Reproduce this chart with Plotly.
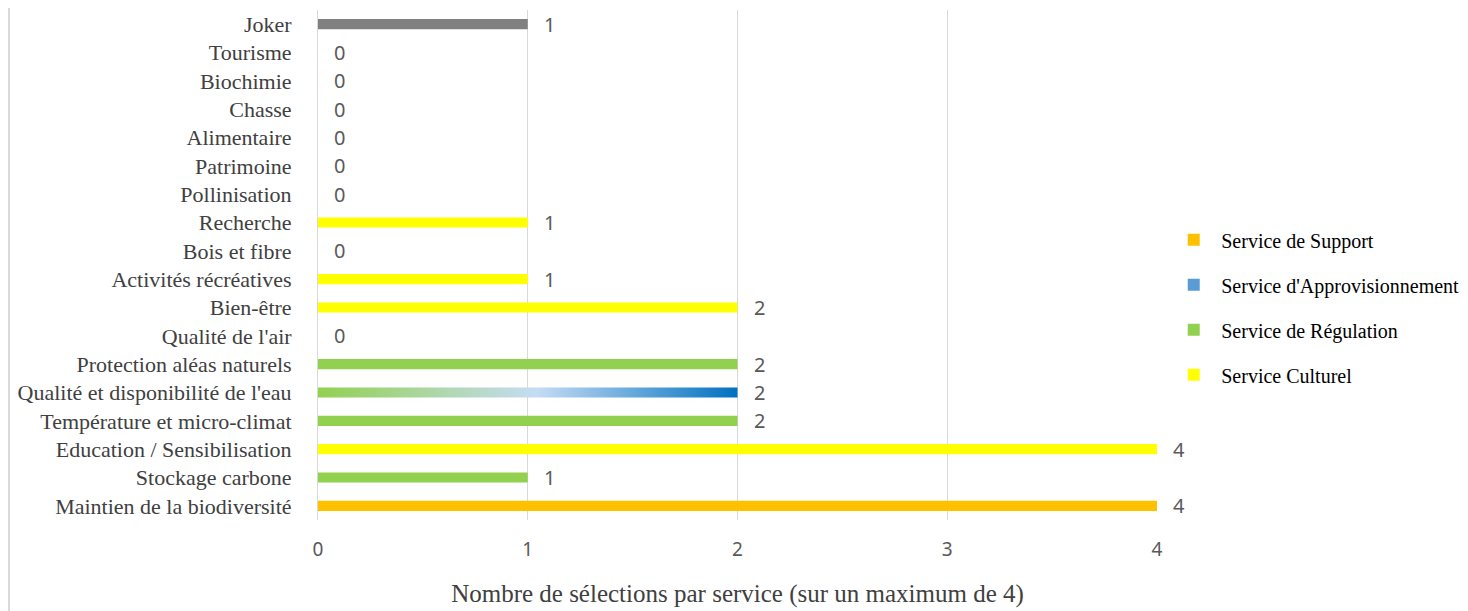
import plotly.graph_objects as go

categories = [
    "Maintien de la biodiversité", "Stockage carbone", "Education / Sensibilisation",
    "Température et micro-climat", "Qualité et disponibilité de l'eau", "Protection aléas naturels",
    "Qualité de l'air", "Bien-être", "Activités récréatives", "Bois et fibre", "Recherche",
    "Pollinisation", "Patrimoine", "Alimentaire", "Chasse", "Biochimie", "Tourisme", "Joker",
]
values = [4, 1, 4, 2, 2, 2, 0, 2, 1, 0, 1, 0, 0, 0, 0, 0, 0, 1]
service = [
    "Support", "Régulation", "Culturel", "Régulation", "Mixte", "Régulation",
    "Régulation", "Culturel", "Culturel", "Approvisionnement", "Culturel",
    "Régulation", "Culturel", "Approvisionnement", "Culturel", "Approvisionnement", "Culturel", "Joker",
]
legend_names = {
    "Support": "Service de Support",
    "Approvisionnement": "Service d'Approvisionnement",
    "Régulation": "Service de Régulation",
    "Culturel": "Service Culturel",
}
colors = {
    "Support": "#FFC000",
    "Approvisionnement": "#5B9BD5",
    "Régulation": "#92D050",
    "Culturel": "#FFFF00",
    "Joker": "#808080",
}
x_ticks = [0, 1, 2, 3, 4]

BAR_W = 0.36
pos = list(range(len(categories)))

fig = go.Figure()

for key in ["Support", "Approvisionnement", "Régulation", "Culturel"]:
    ys = [p for p, s in zip(pos, service) if s == key]
    xs = [v for v, s in zip(values, service) if s == key]
    fig.add_trace(go.Bar(
        x=xs, y=ys, orientation="h", width=BAR_W,
        marker=dict(color=colors[key], line=dict(width=0)),
        name=legend_names[key], legendgroup=key, showlegend=True,
    ))

# Joker
ys = [p for p, s in zip(pos, service) if s == "Joker"]
xs = [v for v, s in zip(values, service) if s == "Joker"]
fig.add_trace(go.Bar(x=xs, y=ys, orientation="h", width=BAR_W,
                     marker=dict(color=colors["Joker"], line=dict(width=0)), showlegend=False))

# Mixed (gradient) bar
for p, v, s in zip(pos, values, service):
    if s == "Mixte":
        fig.add_trace(go.Scatter(
            x=[0, v, v, 0, 0], y=[p - BAR_W / 2, p - BAR_W / 2, p + BAR_W / 2, p + BAR_W / 2, p - BAR_W / 2],
            mode="lines", line=dict(width=0), fill="toself",
            fillgradient=dict(type="horizontal",
                              colorscale=[[0, "#92D050"], [0.52, "#C5DCF5"], [1, "#0070C0"]]),
            showlegend=False, hoverinfo="skip",
        ))

for p, v in zip(pos, values):
    fig.add_annotation(x=v, y=p, text=str(v), showarrow=False, xanchor="left", xshift=14,
                       font=dict(family="Liberation Sans Narrow, Noto Sans", size=20, color="#595959"))

# left frame line
fig.add_shape(type="line", xref="paper", yref="paper", x0=-309 / 839, x1=-309 / 839, y0=-0.25, y1=1.05,
              line=dict(color="#D9D9D9", width=2))

fig.update_layout(
    width=1468, height=611,
    margin=dict(l=310, r=319, t=2, b=99),
    paper_bgcolor="white", plot_bgcolor="white",
    barmode="overlay",
    showlegend=True,
    legend=dict(x=1.011, y=0.417, xanchor="left", yanchor="middle", itemwidth=45,
                traceorder="grouped", tracegroupgap=16,
                font=dict(family="Liberation Serif", size=20, color="#000000")),
    xaxis=dict(range=[0, 4], tickvals=x_ticks, showgrid=True, gridcolor="#D9D9D9", gridwidth=1,
               zeroline=False, showline=False, ticks="", ticklabelstandoff=16,
               tickfont=dict(family="Liberation Sans Narrow, Noto Sans", size=19, color="#595959"),
               title=dict(text="Nombre de sélections par service (sur un maximum de 4)",
                          font=dict(family="Liberation Serif", size=25, color="#404040"), standoff=23)),
    yaxis=dict(range=[-0.5, len(categories) - 0.5], tickvals=pos, ticktext=categories,
               showgrid=False, zeroline=False, showline=True, linecolor="#D9D9D9", linewidth=1,
               ticks="", ticklabelstandoff=21,
               tickfont=dict(family="Liberation Serif", size=22, color="#404040")),
)

fig.write_html("out.html")
